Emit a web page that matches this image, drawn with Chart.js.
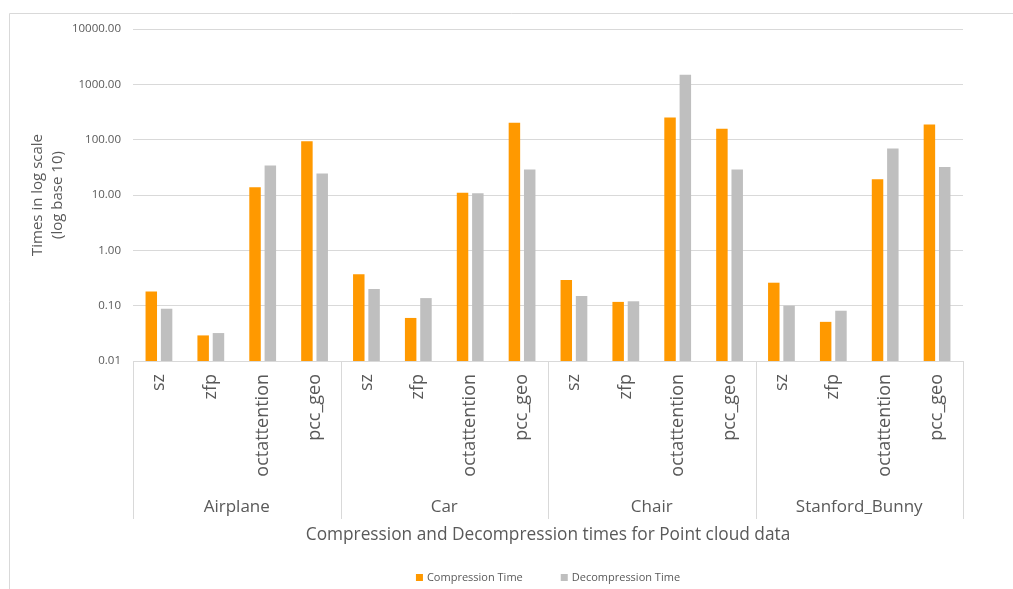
<!DOCTYPE html>
<html>
<head>
<meta charset="utf-8">
<script src="https://cdn.jsdelivr.net/npm/chart.js@4.4.1/dist/chart.umd.min.js"></script>
<style>
  html, body { margin: 0; padding: 0; background: #fff; }
  #wrap { position: relative; width: 1013px; height: 589px; }
</style>
</head>
<body>
<div id="wrap"><canvas id="chart"></canvas></div>
<script>
// data
const groups = ['Airplane', 'Car', 'Chair', 'Stanford_Bunny'];
const methods = ['sz', 'zfp', 'octattention', 'pcc_geo'];
const compression = [0.18, 0.029, 13.8, 94, 0.37, 0.06, 11, 203, 0.29, 0.117, 251, 158, 0.26, 0.051, 19.3, 187];
const decompression = [0.088, 0.032, 34, 24.5, 0.20, 0.137, 10.7, 29, 0.149, 0.12, 1496, 29, 0.10, 0.081, 69, 32];
const yTicks = [0.01, 0.1, 1, 10, 100, 1000, 10000];
const xTitle = 'Compression and Decompression times for Point cloud data';

const labels = [];
groups.forEach(() => methods.forEach(m => labels.push(m)));

const FONT = "'Open Sans', 'Liberation Sans', sans-serif";
const TEXT = '#595959';
const LINE = '#D9D9D9';

// group labels, separators, axis title, legend and the outer frame
const groupAxis = {
    id: 'groupAxis',
    afterDraw(chart) {
        const { ctx, chartArea, scales: { x } } = chart;
        const step = (x.getPixelForValue(1) - x.getPixelForValue(0));
        ctx.save();
        ctx.strokeStyle = LINE;
        ctx.lineWidth = 1;
        for (let g = 0; g <= groups.length; g++) {
            const px = Math.round(x.getPixelForValue(g * methods.length) - step / 2) + 0.5;
            ctx.beginPath();
            ctx.moveTo(px, chartArea.bottom);
            ctx.lineTo(px, 519);
            ctx.stroke();
        }
        ctx.fillStyle = TEXT;
        ctx.font = '17px ' + FONT;
        ctx.textAlign = 'center';
        ctx.textBaseline = 'middle';
        groups.forEach((name, g) => {
            const a = x.getPixelForValue(g * methods.length) - step / 2;
            const b = x.getPixelForValue((g + 1) * methods.length - 1) + step / 2;
            ctx.fillText(name, (a + b) / 2, 507);
        });

        const mid = (chartArea.left + chartArea.right) / 2;
        ctx.font = '17.3px ' + FONT;
        ctx.fillText(xTitle, mid, 535);

        // legend
        ctx.font = '11px ' + FONT;
        ctx.textAlign = 'left';
        const items = chart.data.datasets.map(ds => ({ text: ds.label, color: ds.backgroundColor, w: 11 + ctx.measureText(ds.label).width }));
        const gap = 38;
        let lx = mid - (items.reduce((s, it) => s + it.w, 0) + gap * (items.length - 1)) / 2;
        items.forEach(it => {
            ctx.fillStyle = it.color;
            ctx.fillRect(lx, 574, 7, 7);
            ctx.fillStyle = TEXT;
            ctx.fillText(it.text, lx + 11, 578);
            lx += it.w + gap;
        });

        // frame (top + left)
        ctx.beginPath();
        ctx.moveTo(9.5, 589);
        ctx.lineTo(9.5, 13.5);
        ctx.lineTo(1013, 13.5);
        ctx.stroke();
        ctx.restore();
    }
};

new Chart(document.getElementById('chart'), {
    type: 'bar',
    data: {
        labels: labels,
        datasets: [
            {
                label: 'Compression Time',
                data: compression,
                backgroundColor: '#FF9900',
                categoryPercentage: 0.59,
                barPercentage: 0.75
            },
            {
                label: 'Decompression Time',
                data: decompression,
                backgroundColor: '#BFBFBF',
                categoryPercentage: 0.59,
                barPercentage: 0.75
            }
        ]
    },
    options: {
        responsive: true,
        maintainAspectRatio: false,
        animation: false,
        layout: { padding: { left: 0, right: 50, top: 29, bottom: 0 } },
        plugins: {
            legend: { display: false },
            tooltip: { enabled: false }
        },
        scales: {
            x: {
                grid: { display: false, drawTicks: false },
                border: { color: LINE },
                ticks: {
                    autoSkip: false,
                    maxRotation: 90,
                    minRotation: 90,
                    padding: 13,
                    color: TEXT,
                    font: { family: FONT, size: 18 }
                },
                afterFit: (scale) => { scale.height = 228; }
            },
            y: {
                type: 'logarithmic',
                min: 0.01,
                max: 10000,
                afterBuildTicks: (scale) => { scale.ticks = yTicks.map(v => ({ value: v })); },
                grid: { color: LINE, drawTicks: false },
                border: { display: false },
                ticks: {
                    padding: 12,
                    color: TEXT,
                    font: { family: FONT, size: 11.5 },
                    callback: (v) => Number(v).toFixed(2)
                },
                title: {
                    display: true,
                    text: ['Times in log scale', '(log base 10)'],
                    color: TEXT,
                    font: { family: FONT, size: 15, lineHeight: 1.3 },
                    padding: { top: 28, bottom: 0 }
                },
                afterFit: (scale) => { scale.width = 133; }
            }
        }
    },
    plugins: [groupAxis]
});
</script>
</body>
</html>
